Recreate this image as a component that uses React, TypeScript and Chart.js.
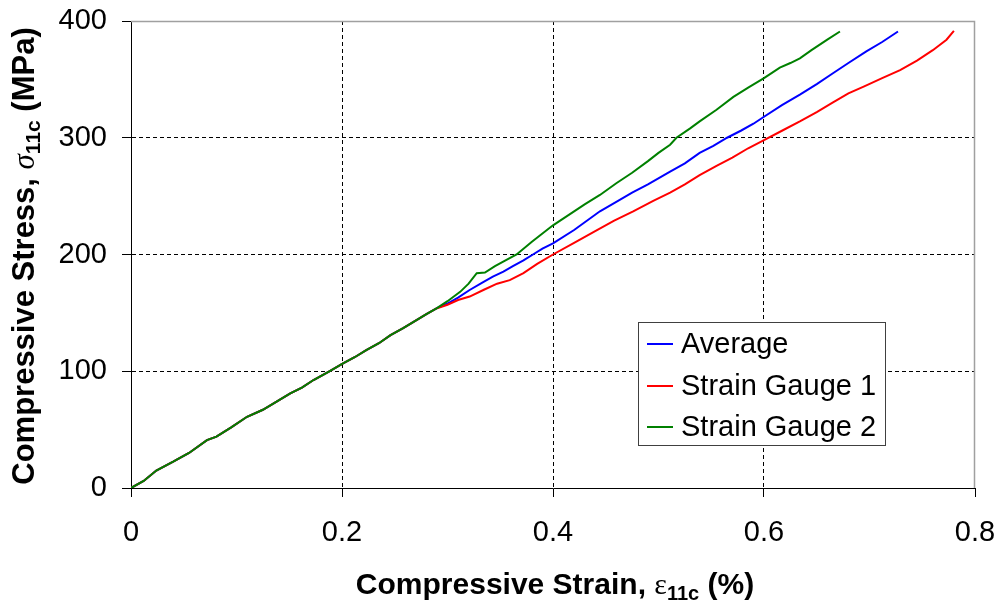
import React, { useEffect, useRef } from 'react';
import { Chart, registerables } from 'chart.js';

Chart.register(...registerables);

// ---- Data (strain in %, stress in MPa) ----
const sharedStrain = [0, 0.012, 0.024, 0.04, 0.055, 0.072, 0.081, 0.095, 0.11, 0.125, 0.138, 0.151, 0.162, 0.173, 0.188, 0.201, 0.212, 0.223, 0.235, 0.246, 0.258, 0.271, 0.28, 0.29];
const sharedStress = [0, 6, 15, 22.5, 30, 41, 44, 52, 61, 67, 74, 81, 86, 92.5, 100, 106.8, 112, 118, 124, 131, 137, 144, 149, 154];

const avgTailStrain = [0.3, 0.31, 0.321, 0.333, 0.343, 0.353, 0.362, 0.372, 0.381, 0.39, 0.4, 0.42, 0.4445, 0.46, 0.475, 0.49, 0.511, 0.525, 0.539, 0.552, 0.565, 0.578, 0.59, 0.6, 0.617, 0.634, 0.65, 0.665, 0.68, 0.697, 0.712, 0.727];
const avgTailStress = [158, 163, 169.6, 176, 181, 185.3, 190, 195, 200, 205, 209.6, 221, 237, 245, 253, 260, 271, 278, 287, 293, 300, 306, 312, 318, 328, 337, 346, 355, 364, 374, 382, 391];

const sg1TailStrain = [0.3, 0.31, 0.321, 0.335, 0.347, 0.359, 0.372, 0.385, 0.4, 0.42, 0.44, 0.458, 0.476, 0.495, 0.511, 0.525, 0.539, 0.555, 0.57, 0.585, 0.6, 0.617, 0.634, 0.65, 0.665, 0.68, 0.695, 0.712, 0.729, 0.745, 0.76, 0.773, 0.78];
const sg1TailStress = [157, 161, 164, 170, 175, 178, 184, 192, 200, 210, 220, 229, 237, 246, 253, 260, 268, 276, 283, 291, 298, 306, 314, 322, 330, 338, 344, 351, 358, 366, 375, 384, 391.5];

const sg2TailStrain = [0.3, 0.312, 0.32, 0.3277, 0.3355, 0.345, 0.355, 0.3655, 0.38, 0.39, 0.4, 0.415, 0.43, 0.4445, 0.46, 0.475, 0.49, 0.5, 0.511, 0.517, 0.53, 0.539, 0.555, 0.571, 0.585, 0.6, 0.615, 0.625, 0.634, 0.645, 0.66, 0.672];
const sg2TailStress = [160, 168, 175, 184, 184.5, 190, 195, 200, 211, 218, 225, 234, 243, 251, 261, 270, 280, 287, 294, 300, 308, 314, 324, 335, 343, 351, 360, 364, 368, 375, 384, 391];

const seriesLabels = ['Average', 'Strain Gauge 1', 'Strain Gauge 2'];
const seriesColors = ['#0000ff', '#ff0000', '#008000'];

const xTickValues = [0, 0.2, 0.4, 0.6, 0.8];
const xTickLabels = ['0', '0.2', '0.4', '0.6', '0.8'];
const yTickValues = [0, 100, 200, 300, 400];
const yTickLabels = ['0', '100', '200', '300', '400'];

const toPoints = (xs: number[], ys: number[]) => xs.map((x, i) => ({ x, y: ys[i] }));

const SANS = '"Liberation Sans", Arial, sans-serif';
const SERIF = '"Liberation Serif", "Times New Roman", serif';

type Part = { t: string; f: string; dy?: number };

function drawRich(ctx: CanvasRenderingContext2D, parts: Part[], cx: number, baseline: number) {
  let total = 0;
  const widths = parts.map((p) => {
    ctx.font = p.f;
    const w = ctx.measureText(p.t).width;
    total += w;
    return w;
  });
  let x = cx - total / 2;
  ctx.textAlign = 'left';
  ctx.textBaseline = 'alphabetic';
  parts.forEach((p, i) => {
    ctx.font = p.f;
    ctx.fillText(p.t, x, baseline + (p.dy || 0));
    x += widths[i];
  });
}

const zeroPadding = (scale: any) => {
  scale.paddingTop = 0;
  scale.paddingBottom = 0;
  scale.paddingLeft = 0;
  scale.paddingRight = 0;
};

const decorPlugin = {
  id: 'decor',
  afterDraw(chart: any) {
    const ctx: CanvasRenderingContext2D = chart.ctx;
    const a = chart.chartArea;
    ctx.save();

    // top and right frame (gray)
    ctx.strokeStyle = '#a0a0a0';
    ctx.lineWidth = 1.5;
    ctx.beginPath();
    ctx.moveTo(a.left, a.top + 0.5);
    ctx.lineTo(a.right - 0.5, a.top + 0.5);
    ctx.lineTo(a.right - 0.5, a.bottom);
    ctx.stroke();

    // legend
    const lx = 638, ly = 322, lw = 247, lh = 123;
    ctx.fillStyle = '#ffffff';
    ctx.fillRect(lx, ly, lw, lh);
    ctx.strokeStyle = '#404040';
    ctx.lineWidth = 1;
    ctx.strokeRect(lx + 0.5, ly + 0.5, lw, lh);
    const rowY = [344, 386, 427];
    chart.data.datasets.forEach((ds: any, i: number) => {
      ctx.strokeStyle = ds.borderColor;
      ctx.lineWidth = 2;
      ctx.beginPath();
      ctx.moveTo(647, rowY[i]);
      ctx.lineTo(673, rowY[i]);
      ctx.stroke();
      ctx.fillStyle = '#000';
      ctx.font = `29px ${SANS}`;
      ctx.textAlign = 'left';
      ctx.textBaseline = 'middle';
      ctx.fillText(ds.label, 681, rowY[i] + 1);
    });

    // axis titles
    ctx.fillStyle = '#000';
    const bold = `bold 30px ${SANS}`;
    const sub = `bold 20px ${SANS}`;
    drawRich(ctx, [
      { t: 'Compressive Strain, ', f: bold },
      { t: 'ε', f: `30px ${SERIF}` },
      { t: '11c', f: sub, dy: 6 },
      { t: ' (%)', f: bold },
    ], (a.left + a.right) / 2 + 2, 594);

    ctx.save();
    ctx.translate(34, 256);
    ctx.rotate(-Math.PI / 2);
    const boldY = `bold 31px ${SANS}`;
    drawRich(ctx, [
      { t: 'Compressive Stress, ', f: boldY },
      { t: 'σ', f: `italic 31px ${SERIF}` },
      { t: '11c', f: `bold 21px ${SANS}`, dy: 6 },
      { t: ' (MPa)', f: boldY },
    ], 0, 0);
    ctx.restore();

    ctx.restore();
  },
};

export default function App() {
  const canvasRef = useRef<HTMLCanvasElement | null>(null);

  useEffect(() => {
    if (!canvasRef.current) return;
    const avg = toPoints([...sharedStrain, ...avgTailStrain], [...sharedStress, ...avgTailStress]);
    const sg1 = toPoints([...sharedStrain, ...sg1TailStrain], [...sharedStress, ...sg1TailStress]);
    const sg2 = toPoints([...sharedStrain, ...sg2TailStrain], [...sharedStress, ...sg2TailStress]);
    const data = [avg, sg1, sg2];
    const orders = [2, 1, 0];

    const chart = new Chart(canvasRef.current, {
      type: 'scatter',
      data: {
        datasets: data.map((d, i) => ({
          label: seriesLabels[i],
          data: d,
          showLine: true,
          borderColor: seriesColors[i],
          backgroundColor: seriesColors[i],
          borderWidth: 2,
          pointRadius: 0,
          pointHoverRadius: 0,
          tension: 0,
          order: orders[i],
        })),
      },
      options: {
        responsive: false,
        animation: false,
        devicePixelRatio: 1,
        layout: { autoPadding: false, padding: { left: 0, right: 25, top: 21, bottom: 0 } },
        plugins: {
          legend: { display: false },
          tooltip: { enabled: false },
          title: { display: false },
        },
        scales: {
          x: {
            type: 'linear',
            min: 0,
            max: 0.8,
            afterBuildTicks: (scale: any) => {
              scale.ticks = xTickValues.map((v) => ({ value: v }));
            },
            afterFit: (scale: any) => {
              scale.height = 115;
              zeroPadding(scale);
            },
            ticks: {
              autoSkip: false,
              maxRotation: 0,
              color: '#000',
              padding: 19,
              font: { family: SANS, size: 29 },
              callback: (_v: any, i: number) => xTickLabels[i],
            },
            grid: {
              color: (c: any) => (c.tick && (c.tick.value === 0 || c.tick.value === 0.8) ? 'rgba(0,0,0,0)' : '#000'),
              lineWidth: 1,
              tickColor: '#000',
              tickLength: 9,
              drawTicks: true,
            },
            border: { display: true, color: '#000', width: 1, dash: [4, 3] },
          },
          y: {
            type: 'linear',
            min: 0,
            max: 400,
            afterBuildTicks: (scale: any) => {
              scale.ticks = yTickValues.map((v) => ({ value: v }));
            },
            afterFit: (scale: any) => {
              scale.width = 131;
              zeroPadding(scale);
            },
            ticks: {
              autoSkip: false,
              color: '#000',
              padding: 15,
              font: { family: SANS, size: 29 },
              callback: (_v: any, i: number) => yTickLabels[i],
            },
            grid: {
              color: (c: any) => (c.tick && (c.tick.value === 0 || c.tick.value === 400) ? 'rgba(0,0,0,0)' : '#000'),
              lineWidth: 1,
              tickColor: '#000',
              tickLength: 9,
              drawTicks: true,
            },
            border: { display: true, color: '#000', width: 1, dash: [4, 3] },
          },
        },
      },
      plugins: [decorPlugin],
    } as any);

    return () => chart.destroy();
  }, []);

  return (
    <div style={{ position: 'absolute', left: 0, top: 0, width: 1000, height: 603, background: '#fff' }}>
      <canvas ref={canvasRef} width={1000} height={603} style={{ display: 'block' }} />
    </div>
  );
}
